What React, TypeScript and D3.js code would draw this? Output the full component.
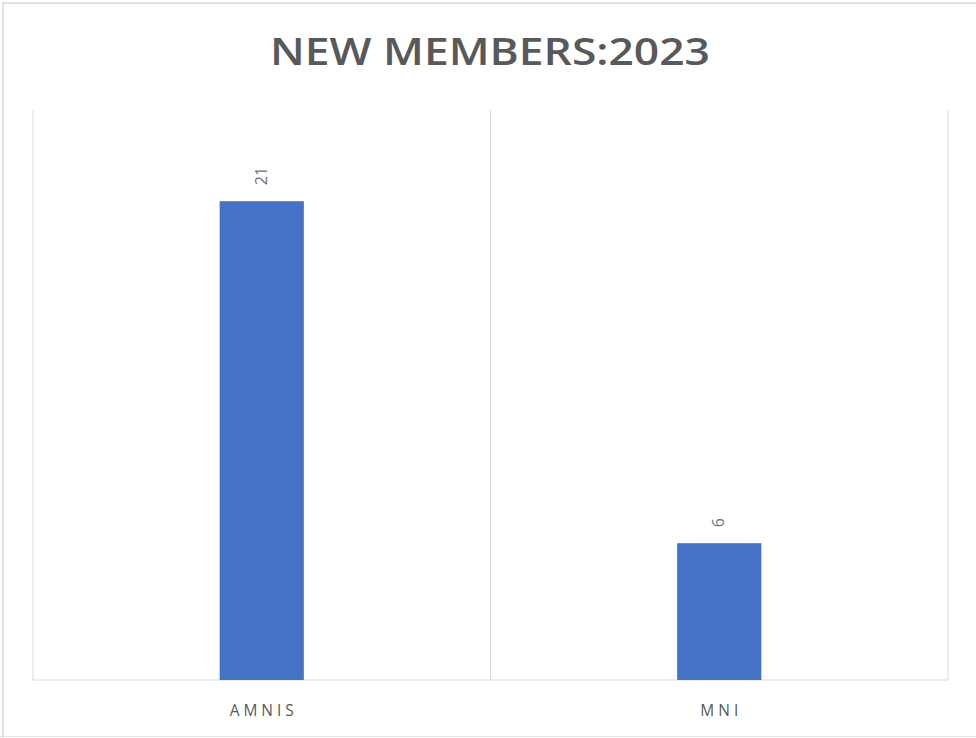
import React from "react";
import * as d3 from "d3";

const categories = ["AMNIS", "MNI"];
const values = [21, 6];
const yMax = 25;
const title = "NEW MEMBERS:2023";

const W = 976;
const H = 738;
const plot = { left: 33, right: 948, top: 110, bottom: 680 };

export default function App() {
  const x = d3
    .scaleBand<string>()
    .domain(categories)
    .range([plot.left, plot.right])
    .paddingInner(0)
    .paddingOuter(0);
  const y = d3.scaleLinear().domain([0, yMax]).range([plot.bottom, plot.top]);
  const barW = x.bandwidth() * 0.184;
  const gridXs = [plot.left, ...categories.map((c) => (x(c) as number) + x.bandwidth())];

  return (
    <svg
      width={W}
      height={H}
      style={{ position: "absolute", left: 0, top: 0, background: "#fff" }}
      fontFamily="'Open Sans', sans-serif"
    >
      <rect x={0} y={0} width={W} height={H} fill="#fff" />
      <path d={`M3,${H + 5} V3 H${W + 5}`} fill="none" stroke="#d9d9d9" strokeWidth={1.5} />
      <line x1={0} x2={W} y1={736.5} y2={736.5} stroke="#e6e6e6" strokeWidth={1} />
      <text
        x={490}
        y={65}
        textAnchor="middle"
        fontSize={38}
        fontWeight={600}
        fill="#595959"
        textLength={440}
        lengthAdjust="spacingAndGlyphs"
      >
        {title}
      </text>
      {gridXs.map((gx, i) => (
        <line key={i} x1={gx} x2={gx} y1={plot.top} y2={plot.bottom} stroke="#d9d9d9" strokeWidth={1} />
      ))}
      <line x1={plot.left} x2={plot.right} y1={plot.bottom} y2={plot.bottom} stroke="#d9d9d9" strokeWidth={1} />
      {categories.map((c, i) => {
        const cx = (x(c) as number) + x.bandwidth() / 2;
        const v = values[i];
        return (
          <g key={c}>
            <rect x={cx - barW / 2} y={y(v)} width={barW} height={y(0) - y(v)} fill="#4472c4" />
            <text
              transform={`translate(${cx + 5},${y(v) - 16}) rotate(-90)`}
              fontSize={16}
              fill="#757171"
              textAnchor="start"
            >
              {v}
            </text>
            <text
              x={cx + 2}
              y={716}
              textAnchor="middle"
              fontSize={15.5}
              fill="#595959"
              letterSpacing={4}
            >
              {c}
            </text>
          </g>
        );
      })}
    </svg>
  );
}
